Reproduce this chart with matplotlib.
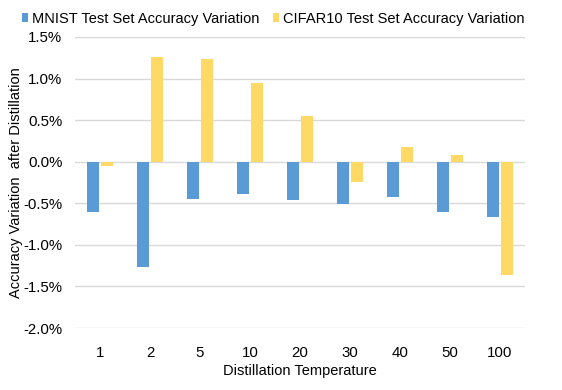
import numpy as np
import matplotlib.pyplot as plt
from matplotlib.ticker import FuncFormatter

plt.rcParams['font.family'] = ['Liberation Sans', 'DejaVu Sans']

# distillation temperatures and accuracy changes (in %)
temperatures = ['1', '2', '5', '10', '20', '30', '40', '50', '100']
mnist_var = [-0.60, -1.27, -0.45, -0.39, -0.46, -0.51, -0.43, -0.60, -0.67]
cifar_var = [-0.05, 1.26, 1.24, 0.95, 0.55, -0.24, 0.18, 0.08, -1.36]

fig = plt.figure(figsize=(5.62, 3.90), dpi=100)
ax = fig.add_axes([75 / 562, 1 - 328 / 390, 450 / 562, (328 - 37) / 390])

x = np.arange(len(temperatures))
w = 0.235
ax.bar(x - w / 2 - 0.025, mnist_var, w, color='#5B9BD5', label='MNIST Test Set Accuracy Variation', zorder=3)
ax.bar(x + w / 2 + 0.025, cifar_var, w, color='#FFD966', label='CIFAR10 Test Set Accuracy Variation', zorder=3)

ax.set_xlim(-0.5, len(temperatures) - 0.5)
ax.set_ylim(-2.0, 1.5)
ax.set_yticks(np.arange(-2.0, 1.51, 0.5))
ax.yaxis.set_major_formatter(FuncFormatter(lambda v, p: f'{v:.1f}%'))
ax.set_xticks(x)
ax.set_xticklabels(temperatures)
ax.tick_params(axis='y', length=0, labelsize=10.8, pad=9)
ax.tick_params(axis='x', length=0, labelsize=10.8, pad=13)
ax.grid(axis='y', color='#d9d9d9', lw=1, zorder=0)
for s in ax.spines.values():
    s.set_visible(False)

ax.set_xlabel('Distillation Temperature', fontsize=10.5, labelpad=3)
ax.set_ylabel('Accuracy Variation  after Distillation', fontsize=10.5)
ax.yaxis.set_label_coords(-52 / 450, 0.5)

fig.legend(loc='upper left', bbox_to_anchor=(16 / 562, 0.985), ncol=2, frameon=False,
           fontsize=10.5, handlelength=0.45, handleheight=0.6, handletextpad=0.25,
           columnspacing=0.9, borderaxespad=0)

fig.savefig('out.png')
